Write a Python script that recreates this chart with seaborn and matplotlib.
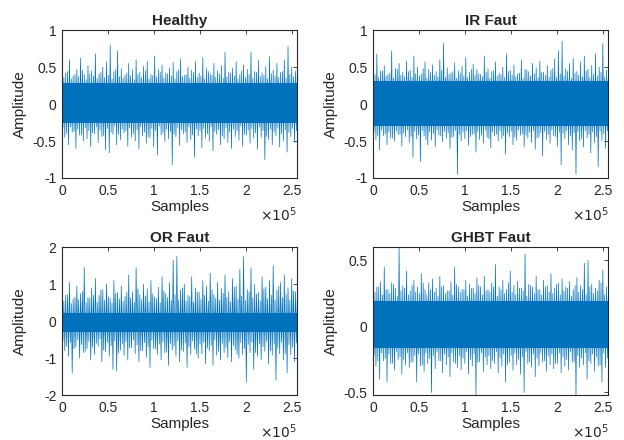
import numpy as np
import pandas as pd
import matplotlib
matplotlib.use("Agg")
import matplotlib.pyplot as plt
import seaborn as sns

# ========= DATA =========
N_SAMPLES = 256000
titles = ["Healthy", "IR Faut", "OR Faut", "GHBT Faut"]
x_ticks = [0, 50000, 100000, 150000, 200000, 250000]
x_tick_labels = ["0", "0.5", "1", "1.5", "2", "2.5"]

# tallest spikes (upper / lower), left to right
healthy_hi = [0.55, 0.42, 0.60, 0.38, 0.47, 0.62, 0.40, 0.52, 0.45, 0.68, 0.41, 0.50, 0.57, 0.80, 0.44, 0.72,
              0.48, 0.39, 0.55, 0.46, 0.60, 0.43, 0.51, 0.58, 0.40, 0.65, 0.47, 0.53, 0.42, 0.49, 0.56, 0.44,
              0.61, 0.39, 0.50, 0.46, 0.58, 0.42, 0.63, 0.48, 0.41, 0.55, 0.45, 0.52, 0.70, 0.43, 0.49, 0.57,
              0.40, 0.53, 0.47, 0.70, 0.44, 0.59, 0.42, 0.51, 0.64, 0.46, 0.55, 0.43, 0.60, 0.78, 0.50, 0.45]
healthy_lo = [-0.45, -0.55, -0.38, -0.60, -0.42, -0.50, -0.47, -0.58, -0.40, -0.52, -0.44, -0.62, -0.66, -0.41, -0.55, -0.48,
              -0.39, -0.57, -0.45, -0.50, -0.61, -0.43, -0.53, -0.46, -0.58, -0.69, -0.42, -0.51, -0.47, -0.82, -0.44, -0.56,
              -0.40, -0.52, -0.48, -0.72, -0.43, -0.59, -0.46, -0.50, -0.63, -0.41, -0.55, -0.47, -0.52, -0.60, -0.44, -0.49,
              -0.57, -0.42, -0.53, -0.46, -0.61, -0.45, -0.75, -0.48, -0.55, -0.43, -0.58, -0.50, -0.65, -0.44, -0.52, -0.47]
# smaller spikes in between
healthy_mid_hi = [0.36, 0.44, 0.34, 0.40, 0.37, 0.46, 0.33, 0.41, 0.38, 0.35, 0.43, 0.36, 0.39, 0.34, 0.47, 0.37,
                  0.35, 0.42, 0.38, 0.33, 0.40, 0.36, 0.45, 0.34, 0.39, 0.37, 0.43, 0.35, 0.41, 0.38, 0.34, 0.46,
                  0.37, 0.40, 0.35, 0.43, 0.36, 0.38, 0.34, 0.44, 0.39, 0.36, 0.41, 0.35, 0.37, 0.42, 0.38, 0.34,
                  0.45, 0.36, 0.40, 0.35, 0.43, 0.37, 0.39, 0.34, 0.41, 0.38, 0.36, 0.44, 0.35, 0.40, 0.37, 0.42]
healthy_mid_lo = [-0.33, -0.40, -0.31, -0.37, -0.34, -0.42, -0.32, -0.36, -0.39, -0.31, -0.35, -0.43, -0.33, -0.38, -0.30, -0.41,
                  -0.34, -0.36, -0.32, -0.40, -0.35, -0.31, -0.38, -0.44, -0.33, -0.36, -0.30, -0.39, -0.34, -0.37, -0.41, -0.32,
                  -0.35, -0.38, -0.31, -0.42, -0.34, -0.36, -0.33, -0.40, -0.31, -0.37, -0.35, -0.43, -0.32, -0.38, -0.34, -0.36,
                  -0.30, -0.41, -0.35, -0.33, -0.39, -0.31, -0.36, -0.44, -0.34, -0.37, -0.32, -0.40, -0.35, -0.38, -0.33, -0.36]

ir_hi = [0.62, 0.68, 0.45, 0.52, 0.40, 0.72, 0.48, 0.55, 0.43, 0.58, 0.46, 0.65, 0.50, 0.41, 0.57, 0.47,
         0.53, 0.44, 0.60, 0.82, 0.49, 0.42, 0.56, 0.45, 0.51, 0.63, 0.43, 0.54, 0.47, 0.40, 0.65, 0.48,
         0.44, 0.57, 0.42, 0.50, 0.68, 0.46, 0.53, 0.41, 0.60, 0.47, 0.44, 0.55, 0.49, 0.58, 0.43, 0.52,
         0.46, 0.61, 0.72, 0.85, 0.48, 0.55, 0.62, 0.44, 0.57, 0.65, 0.47, 0.52, 0.68, 0.50, 0.82, 0.46]
ir_lo = [-0.48, -0.62, -0.43, -0.55, -0.46, -0.50, -0.41, -0.57, -0.44, -0.52, -0.72, -0.47, -0.78, -0.43, -0.55, -0.49,
         -0.58, -0.42, -0.51, -0.46, -0.60, -0.44, -0.95, -0.50, -0.47, -0.56, -0.41, -0.65, -0.48, -0.53, -0.45, -0.59,
         -0.43, -0.50, -0.47, -0.68, -0.44, -0.55, -0.49, -0.42, -0.58, -0.46, -0.52, -0.61, -0.45, -0.70, -0.48, -0.53,
         -0.43, -0.57, -0.82, -0.47, -0.55, -0.62, -0.95, -0.50, -0.58, -0.46, -0.66, -0.52, -0.85, -0.49, -0.60, -0.47]
ir_mid_hi = [0.40, 0.36, 0.45, 0.38, 0.42, 0.35, 0.47, 0.39, 0.37, 0.44, 0.36, 0.41, 0.38, 0.48, 0.35, 0.43,
             0.39, 0.37, 0.46, 0.36, 0.40, 0.44, 0.35, 0.42, 0.38, 0.36, 0.47, 0.39, 0.41, 0.37, 0.43, 0.35,
             0.45, 0.38, 0.40, 0.36, 0.44, 0.39, 0.37, 0.42, 0.35, 0.46, 0.38, 0.41, 0.36, 0.43, 0.39, 0.37,
             0.48, 0.36, 0.41, 0.38, 0.44, 0.35, 0.42, 0.39, 0.37, 0.45, 0.36, 0.40, 0.38, 0.43, 0.36, 0.41]
ir_mid_lo = [-0.37, -0.43, -0.35, -0.40, -0.38, -0.46, -0.36, -0.41, -0.39, -0.35, -0.44, -0.37, -0.42, -0.36, -0.48, -0.38,
             -0.40, -0.35, -0.43, -0.37, -0.39, -0.45, -0.36, -0.41, -0.38, -0.36, -0.44, -0.40, -0.37, -0.42, -0.35, -0.47,
             -0.38, -0.41, -0.36, -0.43, -0.39, -0.37, -0.45, -0.35, -0.40, -0.42, -0.38, -0.36, -0.46, -0.39, -0.37, -0.41,
             -0.35, -0.44, -0.38, -0.40, -0.36, -0.43, -0.39, -0.37, -0.47, -0.36, -0.41, -0.38, -0.44, -0.37, -0.40, -0.36]

or_hi = [0.85, 0.70, 1.05, 0.60, 0.95, 0.75, 1.45, 0.65, 0.90, 1.15, 0.70, 0.85, 1.00, 0.62, 1.10, 0.78,
         0.95, 0.68, 1.25, 0.80, 1.45, 0.72, 1.00, 0.88, 1.10, 0.66, 0.92, 1.20, 0.75, 1.05, 1.65, 1.75,
         0.85, 1.00, 0.70, 1.20, 0.90, 0.78, 1.10, 0.95, 1.30, 0.72, 1.05, 0.88, 1.25, 0.80, 1.15, 0.95,
         1.40, 1.75, 0.85, 1.45, 1.00, 0.78, 1.20, 0.92, 1.10, 1.50, 0.85, 1.05, 1.25, 0.90, 1.15, 0.80]
or_lo = [-0.80, -0.95, -1.40, -0.70, -1.00, -0.85, -0.75, -1.05, -0.90, -0.68, -1.10, -0.82, -0.95, -1.30, -1.35, -0.78,
         -0.92, -1.05, -0.72, -0.88, -1.10, -0.80, -0.98, -1.25, -0.75, -0.90, -1.05, -0.85, -1.20, -0.78, -0.95, -1.10,
         -0.82, -1.25, -0.90, -0.75, -1.00, -0.88, -1.15, -0.80, -1.20, -0.92, -1.05, -0.85, -0.98, -1.10, -0.78, -1.00,
         -0.90, -1.65, -0.85, -1.30, -0.95, -1.05, -0.82, -1.15, -0.92, -1.60, -0.88, -1.05, -1.40, -0.90, -1.10, -0.85]
or_mid_hi = [0.55, 0.72, 0.48, 0.65, 0.58, 0.80, 0.50, 0.62, 0.70, 0.52, 0.85, 0.57, 0.66, 0.49, 0.75, 0.60,
             0.54, 0.78, 0.63, 0.51, 0.88, 0.59, 0.68, 0.53, 0.74, 0.61, 0.50, 0.82, 0.64, 0.56, 0.72, 0.58,
             0.90, 0.55, 0.67, 0.52, 0.79, 0.60, 0.70, 0.54, 0.85, 0.62, 0.57, 0.76, 0.65, 0.53, 0.92, 0.60,
             0.68, 0.56, 0.80, 0.63, 0.74, 0.55, 0.88, 0.61, 0.70, 0.58, 0.95, 0.64, 0.72, 0.57, 0.82, 0.62]
or_mid_lo = [-0.52, -0.68, -0.58, -0.75, -0.50, -0.63, -0.82, -0.55, -0.70, -0.60, -0.48, -0.78, -0.57, -0.66, -0.53, -0.86,
             -0.61, -0.55, -0.72, -0.50, -0.64, -0.80, -0.58, -0.69, -0.52, -0.75, -0.62, -0.56, -0.84, -0.60, -0.67, -0.54,
             -0.78, -0.59, -0.70, -0.53, -0.88, -0.62, -0.57, -0.73, -0.65, -0.51, -0.82, -0.60, -0.71, -0.55, -0.66, -0.90,
             -0.58, -0.74, -0.63, -0.56, -0.85, -0.61, -0.69, -0.54, -0.80, -0.62, -0.72, -0.57, -0.88, -0.63, -0.70, -0.59]

ghbt_hi = [0.38, 0.30, 0.34, 0.45, 0.28, 0.33, 0.29, 0.60, 0.31, 0.42, 0.27, 0.35, 0.30, 0.40, 0.28, 0.33,
           0.36, 0.29, 0.38, 0.31, 0.27, 0.34, 0.45, 0.30, 0.28, 0.35, 0.32, 0.29, 0.37, 0.30, 0.38, 0.28,
           0.33, 0.47, 0.30, 0.35, 0.28, 0.42, 0.31, 0.34, 0.29, 0.55, 0.32, 0.30, 0.38, 0.28, 0.35, 0.31,
           0.40, 0.29, 0.33, 0.36, 0.30, 0.34, 0.28, 0.37, 0.31, 0.48, 0.50, 0.32, 0.29, 0.35, 0.43, 0.30]
ghbt_lo = [-0.30, -0.40, -0.26, -0.42, -0.28, -0.33, -0.25, -0.36, -0.29, -0.31, -0.27, -0.42, -0.30, -0.34, -0.28, -0.50,
           -0.32, -0.26, -0.35, -0.29, -0.38, -0.27, -0.31, -0.33, -0.28, -0.36, -0.30, -0.52, -0.27, -0.34, -0.29, -0.32,
           -0.28, -0.35, -0.30, -0.42, -0.27, -0.33, -0.29, -0.36, -0.50, -0.28, -0.31, -0.38, -0.30, -0.27, -0.34, -0.29,
           -0.32, -0.28, -0.35, -0.30, -0.33, -0.27, -0.52, -0.31, -0.29, -0.40, -0.28, -0.34, -0.30, -0.42, -0.31, -0.29]
ghbt_mid_hi = [0.26, 0.30, 0.24, 0.28, 0.25, 0.32, 0.23, 0.27, 0.29, 0.24, 0.31, 0.26, 0.25, 0.33, 0.24, 0.28,
               0.26, 0.23, 0.30, 0.25, 0.27, 0.24, 0.32, 0.26, 0.28, 0.23, 0.29, 0.25, 0.31, 0.24, 0.27, 0.26,
               0.30, 0.23, 0.28, 0.25, 0.33, 0.26, 0.24, 0.29, 0.27, 0.23, 0.31, 0.25, 0.28, 0.24, 0.30, 0.26,
               0.25, 0.32, 0.24, 0.27, 0.29, 0.23, 0.31, 0.26, 0.28, 0.24, 0.30, 0.25, 0.27, 0.33, 0.24, 0.28]
ghbt_mid_lo = [-0.22, -0.26, -0.20, -0.24, -0.21, -0.28, -0.19, -0.23, -0.25, -0.20, -0.27, -0.22, -0.21, -0.29, -0.20, -0.24,
               -0.22, -0.19, -0.26, -0.21, -0.23, -0.20, -0.28, -0.22, -0.24, -0.19, -0.25, -0.21, -0.27, -0.20, -0.23, -0.22,
               -0.26, -0.19, -0.24, -0.21, -0.29, -0.22, -0.20, -0.25, -0.23, -0.19, -0.27, -0.21, -0.24, -0.20, -0.26, -0.22,
               -0.21, -0.28, -0.20, -0.23, -0.25, -0.19, -0.27, -0.22, -0.24, -0.20, -0.26, -0.21, -0.23, -0.29, -0.20, -0.24]

# dense core band of each signal (upper / lower)
core_hi = [0.28, 0.31, 0.22, 0.19]
core_lo = [-0.26, -0.30, -0.30, -0.16]

y_limits = [(-1, 1), (-1, 1), (-2, 2), (-0.52, 0.6)]
y_ticks = [[-1, -0.5, 0, 0.5, 1], [-1, -0.5, 0, 0.5, 1], [-2, -1, 0, 1, 2], [-0.5, 0, 0.5]]
y_tick_labels = [["-1", "-0.5", "0", "0.5", "1"], ["-1", "-0.5", "0", "0.5", "1"],
                 ["-2", "-1", "0", "1", "2"], ["-0.5", "0", "0.5"]]

peaks = [(healthy_hi, healthy_lo, healthy_mid_hi, healthy_mid_lo),
         (ir_hi, ir_lo, ir_mid_hi, ir_mid_lo),
         (or_hi, or_lo, or_mid_hi, or_mid_lo),
         (ghbt_hi, ghbt_lo, ghbt_mid_hi, ghbt_mid_lo)]

# ========= STYLE =========
sns.set_style("white")
plt.rcParams["font.family"] = ["Liberation Sans", "DejaVu Sans"]
plt.rcParams["axes.unicode_minus"] = False
LINE_COLOR = "#0072BD"
AX_COLOR = "#262626"

fig = plt.figure(figsize=(6.24, 4.4), dpi=100)
positions = [
    [0.0994, 0.5955, 0.377, 0.336],
    [0.598, 0.5955, 0.377, 0.336],
    [0.0994, 0.102, 0.377, 0.336],
    [0.598, 0.102, 0.377, 0.336],
]

for k in range(4):
    ax = fig.add_axes(positions[k])
    hi, lo, mhi, mlo = peaks[k]
    # big and small spikes alternate along the record
    all_hi, all_lo = [], []
    for a, b, c, d in zip(hi, lo, mhi, mlo):
        all_hi += [a, c]
        all_lo += [d, b]
    n = len(all_hi)
    xs = np.linspace(0, N_SAMPLES, n)
    step = xs[1] - xs[0]
    sx, sy = [], []
    for i in range(n):
        sx += [xs[i], xs[i] + step / 2]
        sy += [all_hi[i], all_lo[i]]
    sig = pd.DataFrame({"sample": sx, "amp": sy})

    ax.fill_between([0, N_SAMPLES], [core_lo[k]] * 2, [core_hi[k]] * 2,
                    color=LINE_COLOR, lw=0)
    sns.lineplot(data=sig, x="sample", y="amp", ax=ax, sort=False, estimator=None,
                 color=LINE_COLOR, lw=0.5)

    ax.set_xlim(0, N_SAMPLES)
    ax.set_ylim(*y_limits[k])
    ax.set_xticks(x_ticks)
    ax.set_xticklabels(x_tick_labels)
    ax.set_yticks(y_ticks[k])
    ax.set_yticklabels(y_tick_labels[k])
    ax.tick_params(direction="in", length=3, width=0.6, top=True, right=True,
                   colors=AX_COLOR, labelsize=10, pad=4)
    for s in ax.spines.values():
        s.set_color(AX_COLOR)
        s.set_linewidth(0.8)
    ax.set_title(titles[k], fontsize=11, fontweight="bold", pad=4)
    ax.set_xlabel("Samples", fontsize=11, color=AX_COLOR, labelpad=2)
    ax.set_ylabel("Amplitude", fontsize=11, color=AX_COLOR)
    ax.yaxis.set_label_coords(-0.15, 0.5)
    ax.text(1.0, -0.25, r"$\times10^{5}$", transform=ax.transAxes, ha="right", va="center",
            fontsize=10, color=AX_COLOR)

plt.savefig("out.png", dpi=100)
